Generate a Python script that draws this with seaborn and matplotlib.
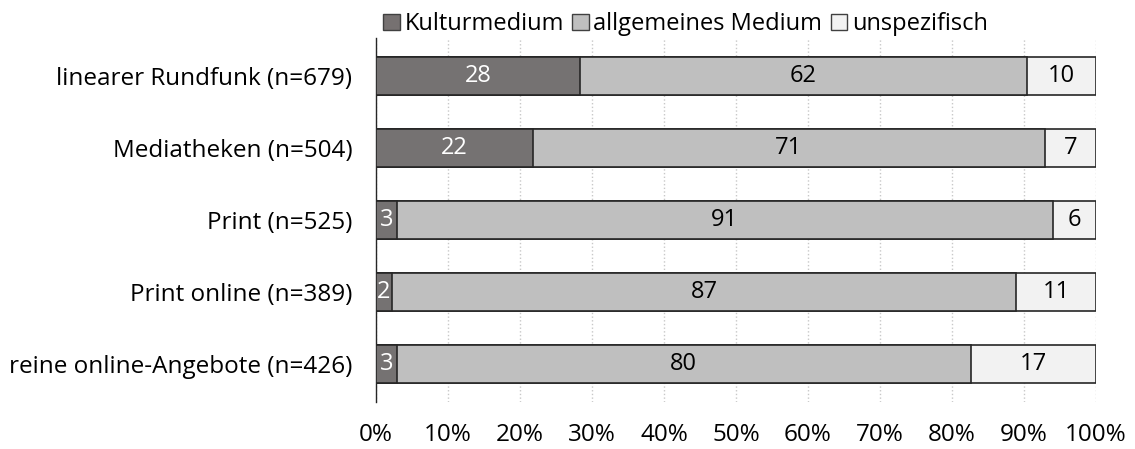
import numpy as np
import pandas as pd
import matplotlib.pyplot as plt
import seaborn as sns
from matplotlib.patches import Patch
from matplotlib.ticker import PercentFormatter

kategorien = ["linearer Rundfunk (n=679)", "Mediatheken (n=504)", "Print (n=525)",
              "Print online (n=389)", "reine online-Angebote (n=426)"]
kulturmedium = [28.3, 21.8, 2.9, 2.2, 2.9]
allgemein = [62.1, 71.1, 91.1, 86.7, 79.7]
unspezifisch = [9.6, 7.1, 6.0, 11.1, 17.4]

serien = ["Kulturmedium", "allgemeines Medium", "unspezifisch"]
farben = ["#767171", "#bfbfbf", "#f2f2f2"]
textfarben = ["white", "black", "black"]

sns.set_style("white")
plt.rcParams["font.family"] = ["Open Sans", "DejaVu Sans"]
plt.rcParams["text.color"] = "black"
plt.rcParams["xtick.color"] = "black"
plt.rcParams["ytick.color"] = "black"
fs = 17.5

df = pd.DataFrame({"kat": kategorien, "k": kulturmedium, "a": allgemein, "u": unspezifisch})
df["cum_a"] = df["k"] + df["a"]
df["cum_u"] = df["cum_a"] + df["u"]

fig = plt.figure(figsize=(11.35, 4.49), dpi=100)
ax = fig.add_axes([376 / 1135, 1 - 402 / 449, 720 / 1135, 364 / 449])

# gestapelt: von hinten nach vorne zeichnen
for spalte, farbe in zip(["cum_u", "cum_a", "k"], farben[::-1]):
    sns.barplot(data=df, x=spalte, y="kat", color=farbe, orient="h", width=0.53,
                edgecolor="#262626", linewidth=1.2, ax=ax, zorder=3)

# Werte beschriften
werte = [kulturmedium, allgemein, unspezifisch]
for i in range(len(kategorien)):
    links = 0
    for j, serie in enumerate(werte):
        v = serie[i]
        ax.text(links + v / 2, i, f"{round(v):d}", ha="center", va="center",
                color=textfarben[j], fontsize=17, zorder=5)
        links += v

ax.set_xlim(0, 100)
ax.set_ylim(4.53, -0.53)
ax.set_xticks(np.arange(0, 101, 10))
ax.xaxis.set_major_formatter(PercentFormatter(decimals=0))
ax.xaxis.grid(True, linestyle=":", color="#c8c8c8", linewidth=1, zorder=0)
ax.set_xlabel("")
ax.set_ylabel("")
ax.tick_params(axis="x", length=0, pad=15, labelsize=fs, labelcolor="black")
ax.tick_params(axis="y", length=0, pad=17, labelsize=fs, labelcolor="black")
for s in ["top", "right", "bottom"]:
    ax.spines[s].set_visible(False)
ax.spines["left"].set_color("#262626")
ax.spines["left"].set_linewidth(1)

handles = [Patch(facecolor=f, edgecolor="#404040", linewidth=1) for f in farben]
fig.legend(handles, serien, loc="upper left", bbox_to_anchor=(362 / 1135, 1.02),
           ncol=3, frameon=False, fontsize=17, handlelength=0.7, handleheight=0.7,
           handletextpad=0.2, columnspacing=0.35, labelcolor="black")

fig.savefig("out.png", dpi=100)
